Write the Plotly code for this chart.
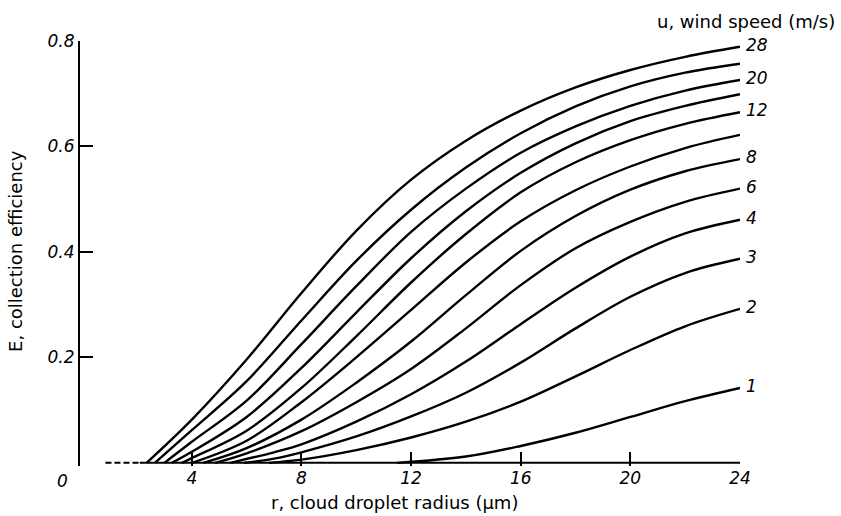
import plotly.graph_objects as go

# wind speeds (m/s) of the curves, top to bottom
U_SPEEDS = [28, 24, 20, 16, 12, 10, 8, 6, 4, 3, 2, 1]
LABELLED = [28, 20, 12, 8, 6, 4, 3, 2, 1]

# r (cloud droplet radius, um) and E (collection efficiency)
R_28 = [2.35, 4, 6, 8, 10, 12, 14, 16, 18, 20, 22, 24]
E_28 = [0, 0.082, 0.196, 0.322, 0.44, 0.537, 0.611, 0.668, 0.712, 0.745, 0.77, 0.789]
R_24 = [2.65, 4, 6, 8, 10, 12, 14, 16, 18, 20, 22, 24]
E_24 = [0, 0.062, 0.155, 0.27, 0.383, 0.48, 0.56, 0.625, 0.676, 0.714, 0.74, 0.757]
R_20 = [3.0, 4, 6, 8, 10, 12, 14, 16, 18, 20, 22, 24]
E_20 = [0, 0.04, 0.118, 0.225, 0.335, 0.438, 0.52, 0.588, 0.638, 0.677, 0.706, 0.726]
R_16 = [3.27, 4, 6, 8, 10, 12, 14, 16, 18, 20, 22, 24]
E_16 = [0, 0.021, 0.087, 0.18, 0.285, 0.388, 0.477, 0.55, 0.606, 0.648, 0.677, 0.699]
R_12 = [3.64, 4, 6, 8, 10, 12, 14, 16, 18, 20, 22, 24]
E_12 = [0, 0.009, 0.061, 0.142, 0.24, 0.342, 0.434, 0.513, 0.57, 0.612, 0.643, 0.665]
R_10 = [4.0, 6, 8, 10, 12, 14, 16, 18, 20, 22, 24]
E_10 = [0, 0.042, 0.115, 0.2, 0.29, 0.38, 0.458, 0.517, 0.562, 0.597, 0.622]
R_8 = [4.42, 6, 8, 10, 12, 14, 16, 18, 20, 22, 24]
E_8 = [0, 0.028, 0.082, 0.152, 0.23, 0.318, 0.402, 0.468, 0.518, 0.553, 0.576]
R_6 = [4.85, 6, 8, 10, 12, 14, 16, 18, 20, 22, 24]
E_6 = [0, 0.018, 0.06, 0.115, 0.178, 0.255, 0.337, 0.407, 0.457, 0.495, 0.52]
R_4 = [5.4, 7, 8, 10, 12, 14, 16, 18, 20, 22, 24]
E_4 = [0, 0.02, 0.035, 0.078, 0.13, 0.192, 0.263, 0.332, 0.391, 0.435, 0.461]
R_3 = [5.9, 7, 8, 10, 12, 14, 16, 18, 20, 22, 24]
E_3 = [0, 0.008, 0.02, 0.05, 0.088, 0.133, 0.19, 0.255, 0.315, 0.36, 0.387]
R_2 = [6.8, 8, 10, 12, 14, 16, 18, 20, 22, 24]
E_2 = [0, 0.006, 0.024, 0.048, 0.078, 0.116, 0.164, 0.214, 0.259, 0.292]
R_1 = [11.5, 14, 16, 18, 20, 22, 24]
E_1 = [0, 0.012, 0.032, 0.057, 0.087, 0.117, 0.142]

CURVES = {
    28: (R_28, E_28), 24: (R_24, E_24), 20: (R_20, E_20), 16: (R_16, E_16),
    12: (R_12, E_12), 10: (R_10, E_10), 8: (R_8, E_8), 6: (R_6, E_6),
    4: (R_4, E_4), 3: (R_3, E_3), 2: (R_2, E_2), 1: (R_1, E_1),
}

X_TICKS = [4, 8, 12, 16, 20, 24]
Y_TICKS = [0.2, 0.4, 0.6, 0.8]
Y_TICK_TEXT = ["0.2", "0.4", "0.6", "0.8"]

FONT = "DejaVu Sans"
num_font = dict(family=FONT, size=17, color="black", style="italic")

fig = go.Figure()
for u in U_SPEEDS:
    r, e = CURVES[u]
    fig.add_trace(go.Scatter(
        x=r, y=e, mode="lines",
        line=dict(color="black", width=2.4, shape="spline", smoothing=1.0),
        showlegend=False, hoverinfo="skip", name=f"u = {u} m/s"))

# x-axis base line: dashed start, then solid
fig.add_shape(type="line", xref="x", yref="y", x0=0.85, x1=2.1, y0=0, y1=0,
              line=dict(color="black", width=2, dash="6px,3px"))
fig.add_shape(type="line", xref="x", yref="y", x0=2.1, x1=24, y0=0, y1=0,
              line=dict(color="black", width=2))

annotations = []
for u in LABELLED:
    r, e = CURVES[u]
    annotations.append(dict(x=r[-1], y=e[-1], xref="x", yref="y", text=str(u),
                            showarrow=False, xanchor="left", yanchor="middle",
                            xshift=4, yshift=2, font=num_font))
annotations += [
    dict(x=1.147, y=1.047, xref="paper", yref="paper", text="u, wind speed (m/s)",
         showarrow=False, xanchor="right", yanchor="middle",
         font=dict(family=FONT, size=18, color="black")),
    dict(x=0.476, y=-0.087, xref="paper", yref="paper", text="r, cloud droplet radius (μm)",
         showarrow=False, xanchor="center", yanchor="middle",
         font=dict(family=FONT, size=18, color="black")),
    dict(x=-0.097, y=0.506, xref="paper", yref="paper", text="E, collection efficiency",
         showarrow=False, textangle=-90, xanchor="center", yanchor="middle",
         font=dict(family=FONT, size=18, color="black")),
    dict(x=-0.027, y=-0.035, xref="paper", yref="paper", text="0",
         showarrow=False, xanchor="center", yanchor="middle", font=num_font),
]

fig.update_layout(
    width=841, height=516,
    margin=dict(l=80, r=101, t=41, b=50),
    paper_bgcolor="white", plot_bgcolor="white",
    annotations=annotations,
    xaxis=dict(range=[-0.08, 24.0], showgrid=False, zeroline=False, showline=False,
               ticks="inside", ticklen=14, tickwidth=2, tickcolor="black",
               tickvals=X_TICKS, ticktext=[str(v) for v in X_TICKS],
               tickfont=num_font),
    yaxis=dict(range=[-0.006, 0.8], showgrid=False, zeroline=False, showline=True,
               linecolor="black", linewidth=2,
               ticks="inside", ticklen=13, tickwidth=2, tickcolor="black",
               tickvals=Y_TICKS, ticktext=Y_TICK_TEXT, tickfont=num_font),
)

fig.write_html("out.html")
